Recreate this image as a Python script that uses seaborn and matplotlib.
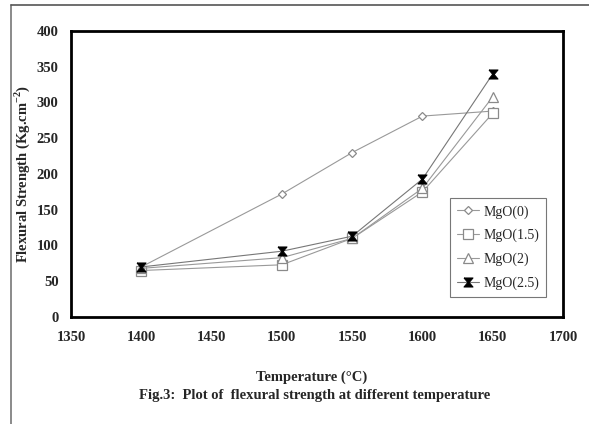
import matplotlib
matplotlib.use("Agg")
import matplotlib.pyplot as plt
from matplotlib.lines import Line2D
import seaborn as sns
import pandas as pd

temperature = [1400, 1500, 1550, 1600, 1650]
series_names = ["MgO(0)", "MgO(1.5)", "MgO(2)", "MgO(2.5)"]
mgo_0 = [70, 172, 230, 281, 288]
mgo_15 = [65, 73, 110, 175, 285]
mgo_2 = [68, 83, 110, 180, 308]
mgo_25 = [70, 92, 113, 193, 340]
x_ticks = [1350, 1400, 1450, 1500, 1550, 1600, 1650, 1700]
y_ticks = [0, 50, 100, 150, 200, 250, 300, 350, 400]

rows = []
for name, vals in zip(series_names, [mgo_0, mgo_15, mgo_2, mgo_25]):
    for t, v in zip(temperature, vals):
        rows.append({"Temperature": t, "Strength": v, "Series": name})
df = pd.DataFrame(rows)

sns.set_style("white")
plt.rcParams["font.family"] = ["Liberation Serif", "DejaVu Serif"]
plt.rcParams["mathtext.fontset"] = "custom"
plt.rcParams["mathtext.rm"] = "Liberation Serif:bold"
plt.rcParams["mathtext.bf"] = "Liberation Serif:bold"

fig = plt.figure(figsize=(5.89, 4.24), dpi=100)
ax = fig.add_axes([0.1205, 0.2524, 0.8355, 0.6745])

hourglass = [(-1, 1), (1, 1), (0.15, 0), (1, -1), (-1, -1), (-0.15, 0), (-1, 1)]
markers = {"MgO(0)": "D", "MgO(1.5)": "s", "MgO(2)": "^", "MgO(2.5)": hourglass}
palette = {n: "#999999" for n in series_names}
sizes = {"MgO(0)": 4.5, "MgO(1.5)": 7, "MgO(2)": 7, "MgO(2.5)": 6.5}

sns.lineplot(data=df, x="Temperature", y="Strength", hue="Series", style="Series",
             markers=markers, dashes=False, palette=palette, ax=ax,
             linewidth=0.8, legend=False)

handles = []
for line, name in zip(ax.lines, series_names):
    line.set_markersize(sizes[name])
    line.set_label(name)
    if name == "MgO(2.5)":
        line.set_markerfacecolor("black")
        line.set_markeredgecolor("black")
        line.set_color("#777777")
        line.set_zorder(5)
    else:
        line.set_markerfacecolor("white")
        line.set_markeredgecolor("#8a8a8a")
        line.set_markeredgewidth(0.9)
    handles.append(line)

ax.set_xlim(1350, 1700)
ax.set_ylim(0, 400)
ax.set_xticks(x_ticks)
ax.set_yticks(y_ticks)
ax.set_xticklabels([str(t) for t in x_ticks], fontweight="bold", fontsize=10.5)
ax.set_yticklabels([str(t) for t in y_ticks], fontweight="bold", fontsize=10.5)
ax.tick_params(axis="both", direction="out", length=3, width=0.8, color="black")
ax.tick_params(axis="y", pad=6)
ax.tick_params(axis="x", pad=7)
for sp in ax.spines.values():
    sp.set_visible(True)
    sp.set_color("black")
    sp.set_linewidth(2)

ax.set_xlabel("")
ax.set_ylabel("Flexural Strength (Kg.cm$^{-2}$)", fontweight="bold", fontsize=10.5, labelpad=3)

leg = ax.legend(handles=handles, labels=series_names, loc="lower right",
                bbox_to_anchor=(0.98, 0.045), frameon=True, fancybox=False,
                prop={"family": "Liberation Serif", "size": 10},
                handlelength=1.6, handletextpad=0.3, labelspacing=0.75,
                borderpad=0.5)
leg.get_frame().set_edgecolor("#555555")
leg.get_frame().set_linewidth(0.8)

fig.text(312 / 589, 1 - 377 / 424, "Temperature (\u00b0C)", ha="center", va="center",
         fontweight="bold", fontsize=10.5)
fig.text(0.535, 1 - 396 / 424, "Fig.3:  Plot of  flexural strength at different temperature",
         ha="center", va="center", fontweight="bold", fontsize=10.5)

fig.add_artist(Line2D([11 / 589, 11 / 589], [0, 1 - 5 / 424], transform=fig.transFigure,
                      color="#777777", linewidth=1.2))
fig.add_artist(Line2D([11 / 589, 1], [1 - 5 / 424, 1 - 5 / 424], transform=fig.transFigure,
                      color="#555555", linewidth=1.2))

fig.savefig("out.png", dpi=100)
